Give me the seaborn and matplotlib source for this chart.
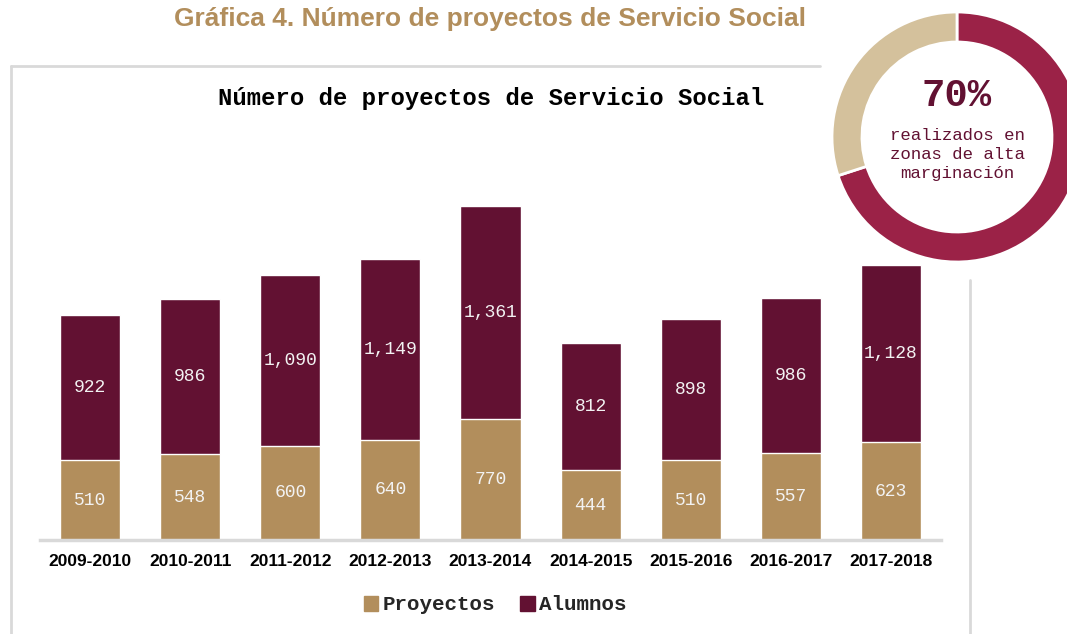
import matplotlib
matplotlib.use('Agg')
import matplotlib.pyplot as plt
from matplotlib.lines import Line2D
from matplotlib.patches import Patch
import pandas as pd
import seaborn as sns

# Data
years = ['2009-2010', '2010-2011', '2011-2012', '2012-2013', '2013-2014',
         '2014-2015', '2015-2016', '2016-2017', '2017-2018']
proyectos = [510, 548, 600, 640, 770, 444, 510, 557, 623]
alumnos = [922, 986, 1090, 1149, 1361, 812, 898, 986, 1128]

# Donut: share of projects in high-marginalisation areas
donut_labels = ['Alta marginación', 'Otras']
donut_values = [70, 30]

gold = '#b28e5c'
maroon = '#621132'
ring_red = '#9b2247'
ring_tan = '#d4c19c'
mono = ['Liberation Mono', 'DejaVu Sans Mono']

sns.set_theme(style='white')
plt.rcParams['font.family'] = ['Liberation Sans', 'DejaVu Sans']

df = pd.DataFrame({'Periodo': years, 'Proyectos': proyectos, 'Alumnos': alumnos})
df['Total'] = df['Proyectos'] + df['Alumnos']

fig = plt.figure(figsize=(10.67, 6.34), dpi=100)

# Outer frame of the chart box
frame = dict(color='#d9d9d9', lw=2, transform=fig.transFigure)
fig.add_artist(Line2D([11 / 1067, 11 / 1067], [0, 1 - 66 / 634], **frame))
fig.add_artist(Line2D([11 / 1067, 820 / 1067], [1 - 66 / 634, 1 - 66 / 634], **frame))
fig.add_artist(Line2D([970 / 1067, 970 / 1067], [0, 1 - 280 / 634], **frame))

# Bar chart
ax = fig.add_axes([40 / 1067, 1 - 540 / 634, 901 / 1067, 345 / 634])
sns.barplot(data=df, x='Periodo', y='Total', color=maroon, width=0.6,
            saturation=1, ax=ax)
sns.barplot(data=df, x='Periodo', y='Proyectos', color=gold, width=0.6,
            saturation=1, ax=ax)
ax.set_ylim(0, 2200)
ax.set_xlim(-0.5, 8.5)
ax.set_xlabel('')
ax.set_ylabel('')
ax.set_yticks([])
for s in ['top', 'right', 'left']:
    ax.spines[s].set_visible(False)
ax.spines['bottom'].set_color('#d9d9d9')
ax.spines['bottom'].set_linewidth(2.5)
ax.tick_params(axis='x', length=0, pad=10)
for lab in ax.get_xticklabels():
    lab.set_fontfamily(['Liberation Sans'])
    lab.set_fontweight('bold')
    lab.set_fontsize(12.5)
    lab.set_color('black')

for i, (p, a) in enumerate(zip(proyectos, alumnos)):
    ax.text(i, p / 2, f'{p:,}', ha='center', va='center', color='#f2f2f2',
            fontsize=13, family=mono)
    ax.text(i, p + a / 2, f'{a:,}', ha='center', va='center', color='#f2f2f2',
            fontsize=13, family=mono)

# Titles
fig.text(490 / 1067, 1 - 19 / 634, 'Gráfica 4. Número de proyectos de Servicio Social',
         ha='center', va='center', color=gold, fontsize=19, fontweight='bold')
fig.text(491 / 1067, 1 - 98 / 634, 'Número de proyectos de Servicio Social',
         ha='center', va='center', color='black', fontsize=17.2, fontweight='bold',
         family=mono)

# Legend
handles = [Patch(color=gold, label='Proyectos'), Patch(color=maroon, label='Alumnos')]
fig.legend(handles=handles, loc='center', ncol=2, frameon=False,
           bbox_to_anchor=(495 / 1067, 1 - 605 / 634),
           prop={'family': mono, 'weight': 'bold', 'size': 15},
           handlelength=0.7, handleheight=0.7, handletextpad=0.2, columnspacing=1.2)

# Donut
r = 125
cx, cy = 957, 137
dax = fig.add_axes([(cx - r) / 1067, 1 - (cy + r) / 634, 2 * r / 1067, 2 * r / 634])
dax.pie(donut_values, colors=[ring_red, ring_tan], startangle=90, counterclock=False,
        wedgeprops=dict(width=0.24, edgecolor='white', linewidth=2))
dax.set_xlim(-1, 1)
dax.set_ylim(-1, 1)
dax.set_aspect('equal')
dax.text(0, 0.33, '70%', ha='center', va='center', color=maroon, fontsize=28,
         fontweight='bold', family=mono)
dax.text(0, -0.14, 'realizados en\nzonas de alta\nmarginación', ha='center',
         va='center', color=maroon, fontsize=12.5, family=mono,
         linespacing=1.3)

fig.savefig('out.png', dpi=100)
